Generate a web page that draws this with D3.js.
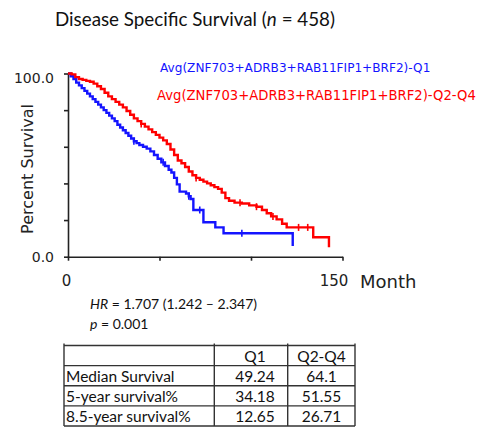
<!DOCTYPE html>
<html>
<head>
<meta charset="utf-8">
<script src="https://cdn.jsdelivr.net/npm/d3@7"></script>
<style>
  body { margin: 0; background: #fff; }
  svg { display: block; }
</style>
</head>
<body>
<svg id="chart"></svg>
<script>
// Kaplan-Meier steps (month, percent surviving)
const q1Months = [0, 1.5, 3, 4.5, 6, 7.5, 9, 10.5, 12, 13.5, 15, 16.5, 18, 19.5, 21, 22.5, 24, 25.5, 27, 28.5,
  30, 31.5, 33, 34.5, 36, 37.5, 39, 41, 43, 45, 47, 49, 51, 53, 55, 56.5, 58, 59.5, 61, 64.5, 66, 67, 68.5,
  74, 80.5, 85, 122.8];
const q1Pct = [100, 98.5, 97, 95, 93.5, 92, 90.5, 89, 87.5, 86, 84.5, 83, 81.5, 80, 78.5, 77, 75.5, 74, 72, 70.5,
  69, 67.5, 66, 64.5, 63, 62, 61, 60, 59, 57.5, 55.5, 53.5, 51.5, 49.5, 47.5, 46, 43, 39.5, 35.5, 34.5, 33, 31.5, 25.5,
  18.8, 16, 12.8, 5.8];
const q1Censor = [36, 52, 66, 72, 95];

const q2q4Months = [0, 2, 4, 6, 8, 10, 12, 14, 16, 18, 20, 22, 24, 26, 28, 30, 32, 34, 36, 38, 40, 42, 44, 46, 48,
  50, 52, 54, 56, 58, 60, 62, 64, 66, 68, 70, 72, 74, 76, 78, 80, 82, 84, 86, 88, 91, 95, 99, 103, 106, 108.6,
  111, 114, 117, 119.5, 134, 142.6];
const q2q4Pct = [100, 99.5, 98, 97, 96.5, 96, 95.5, 94.5, 93, 91.5, 89.5, 87.5, 86, 84.5, 83, 81.5, 79.5, 77.5, 75.5,
  74, 72.5, 71, 69.5, 68, 66.5, 65, 63.5, 61.5, 58.5, 55.5, 52.5, 51, 49, 46.5, 44.5, 43, 42, 41, 40, 39, 38, 37, 35,
  32, 30.5, 29.5, 29, 28, 27.3, 25.5, 23.7, 22, 20.4, 18, 16, 10.6, 5.1];
const q2q4Censor = [40, 70, 94, 103, 112, 126, 131];

const seriesNames = ["Avg(ZNF703+ADRB3+RAB11FIP1+BRF2)-Q1", "Avg(ZNF703+ADRB3+RAB11FIP1+BRF2)-Q2-Q4"];
const seriesColors = ["#1414ff", "#ff0000"];

const yTicks = [0, 20, 40, 60, 80, 100];
const xTicks = [0, 50, 100, 150];

// summary table
const tableHeader = ["", "Q1", "Q2-Q4"];
const tableRows = ["Median Survival", "5-year survival%", "8.5-year survival%"];
const q1Values = ["49.24", "34.18", "12.65"];
const q2q4Values = ["64.1", "51.55", "26.71"];

// Layout
const width = 488, height = 432;
const plotLeft = 68, plotRight = 342.5, plotTop = 73.5, plotBottom = 256.7;

const svg = d3.select("#chart")
    .attr("width", width)
    .attr("height", height)
    .attr("viewBox", [0, 0, width, height]);

const x = d3.scaleLinear([0, 150], [plotLeft, plotRight]);
const y = d3.scaleLinear([0, 100], [plotBottom, plotTop]);

// title
svg.append("text")
    .attr("x", 55).attr("y", 26)
    .attr("font-family", "Lato, sans-serif")
    .attr("font-size", 18.8)
    .attr("fill", "#111")
    .call(t => {
        t.append("tspan").text("Disease Specific Survival (");
        t.append("tspan").attr("font-style", "italic").text("n");
        t.append("tspan").text(" = 458)");
    });

// axes
svg.append("g")
    .attr("transform", `translate(${plotLeft},0)`)
    .call(d3.axisLeft(y).tickValues(yTicks).tickSize(4).tickSizeOuter(0).tickPadding(10)
        .tickFormat(d => (d === 0 || d === 100) ? d.toFixed(1) : ""))
    .call(g => g.selectAll("path, line").attr("stroke", "#222").attr("stroke-width", 1.6))
    .call(g => g.selectAll("text")
        .attr("font-family", "DejaVu Sans, sans-serif")
        .attr("font-size", 14)
        .attr("fill", "#222")
        .attr("dy", d => d === 100 ? "0.65em" : "0.32em"));

svg.append("g")
    .attr("transform", `translate(0,${plotBottom})`)
    .call(d3.axisBottom(x).tickValues(xTicks).tickSize(4).tickSizeOuter(0).tickPadding(15)
        .tickFormat(d => (d === 0 || d === 150) ? d : ""))
    .call(g => g.selectAll("path, line").attr("stroke", "#222").attr("stroke-width", 1.6))
    .call(g => g.selectAll("text")
        .attr("font-family", "DejaVu Sans, sans-serif")
        .attr("font-size", 15)
        .attr("fill", "#222")
        .attr("dx", d => d === 150 ? -9 : -2));

svg.append("text")
    .attr("x", 360).attr("y", 288)
    .attr("font-family", "DejaVu Sans, sans-serif")
    .attr("font-size", 18)
    .attr("fill", "#222")
    .text("Month");

svg.append("text")
    .attr("transform", `translate(33,169) rotate(-90)`)
    .attr("text-anchor", "middle")
    .attr("font-family", "DejaVu Sans, sans-serif")
    .attr("font-size", 16)
    .attr("fill", "#222")
    .text("Percent Survival");

// curves
const series = [
    {months: q1Months, pct: q1Pct, censor: q1Censor},
    {months: q2q4Months, pct: q2q4Pct, censor: q2q4Censor}
];

const line = d3.line()
    .x(d => x(d[0]))
    .y(d => y(d[1]))
    .curve(d3.curveStepAfter);

function survivalAt(s, m) {
    const i = d3.bisectRight(s.months, m) - 1;
    return s.pct[Math.max(0, i)];
}

series.forEach((s, k) => {
    const pts = s.months.map((m, i) => [m, s.pct[i]]);
    svg.append("path")
        .attr("d", line(pts))
        .attr("fill", "none")
        .attr("stroke", seriesColors[k])
        .attr("stroke-width", 2.4);

    svg.append("g")
        .selectAll("line")
        .data(s.censor)
        .join("line")
        .attr("x1", d => x(d)).attr("x2", d => x(d))
        .attr("y1", d => y(survivalAt(s, d)) - 3.5)
        .attr("y2", d => y(survivalAt(s, d)) + 3.5)
        .attr("stroke", seriesColors[k])
        .attr("stroke-width", 1.6);
});

// legend
svg.append("g")
    .selectAll("text")
    .data(seriesNames)
    .join("text")
    .attr("x", (d, i) => i === 0 ? 160 : 157)
    .attr("y", (d, i) => 72 + i * 28)
    .attr("font-family", "DejaVu Sans, sans-serif")
    .attr("font-size", (d, i) => i === 0 ? 12.1 : 13.2)
    .attr("fill", (d, i) => seriesColors[i])
    .text(d => d);

// hazard ratio
const stats = svg.append("g")
    .attr("font-family", "Lato, sans-serif")
    .attr("font-size", 14)
    .attr("fill", "#111");
stats.append("text").attr("x", 90).attr("y", 309)
    .call(t => {
        t.append("tspan").attr("font-style", "italic").text("HR");
        t.append("tspan").text(" = 1.707 (1.242 \u2013 2.347)");
    });
stats.append("text").attr("x", 90).attr("y", 329)
    .call(t => {
        t.append("tspan").attr("font-style", "italic").text("p");
        t.append("tspan").text(" = 0.001");
    });

// table
const colEdges = [64, 214.3, 287.7, 355];
const rowScale = d3.scaleBand([0, 1, 2, 3], [345.5, 426]);
const table = svg.append("g");

table.selectAll("line.h")
    .data(d3.range(5))
    .join("line")
    .attr("x1", colEdges[0]).attr("x2", colEdges[3])
    .attr("y1", i => i < 4 ? rowScale(i) : rowScale(3) + rowScale.bandwidth())
    .attr("y2", i => i < 4 ? rowScale(i) : rowScale(3) + rowScale.bandwidth())
    .attr("stroke", "#333").attr("stroke-width", 1.4);

table.selectAll("line.v")
    .data(colEdges)
    .join("line")
    .attr("x1", d => d).attr("x2", d => d)
    .attr("y1", rowScale(0) - 2)
    .attr("y2", rowScale(3) + rowScale.bandwidth())
    .attr("stroke", "#333").attr("stroke-width", 1.4);

const cells = [tableHeader].concat(tableRows.map((r, i) => [r, q1Values[i], q2q4Values[i]]));
const colText = [{x: 66, anchor: "start"}, {x: 255, anchor: "middle"}, {x: 321.5, anchor: "middle"}];

cells.forEach((row, r) => {
    table.append("g")
        .selectAll("text")
        .data(row)
        .join("text")
        .attr("x", (d, c) => colText[c].x)
        .attr("y", rowScale(r) + rowScale.bandwidth() - 4)
        .attr("text-anchor", (d, c) => colText[c].anchor)
        .attr("font-family", "Lato, sans-serif")
        .attr("font-size", 15.5)
        .attr("fill", "#111")
        .text(d => d);
});
</script>
</body>
</html>
